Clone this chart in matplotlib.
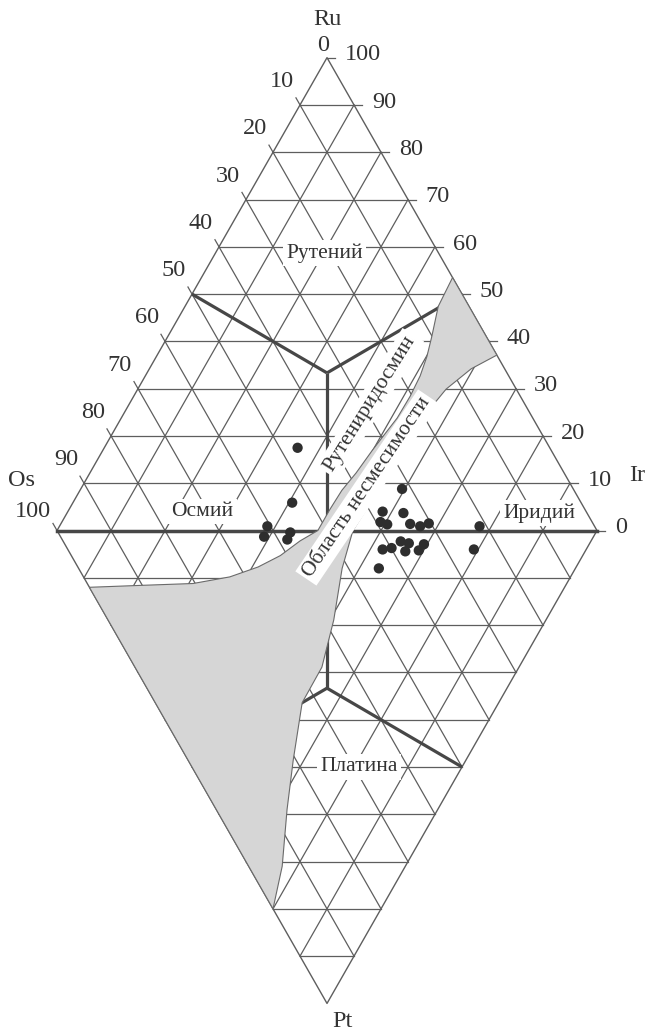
import numpy as np
import matplotlib.pyplot as plt
from matplotlib.patches import Polygon

plt.rcParams['font.family'] = ['Liberation Serif', 'DejaVu Serif']

# analysed grains, at.% : Ir, Ru (upper triangle) or Pt (lower triangle); Os is the rest
grain_ir = [35.8, 40.6, 38.5, 37.7, 43.0, 41.7,
            59.5, 58.3, 62.3, 59.0, 60.5, 64.7, 66.8, 68.1, 77.8,
            58.3, 60.1, 62.5, 63.8, 62.3, 64.9, 66.5, 55.6, 75.2]
grain_ru = [17.5, 5.9, 0.9, 0.0, 0.0, 0.0,
            8.8, 4.0, 3.7, 1.8, 1.3, 1.4, 0.9, 1.5, 0.9,
            0.0, 0.0, 0.0, 0.0, 0.0, 0.0, 0.0, 0.0, 0.0]
grain_pt = [0.0, 0.0, 0.0, 1.3, 0.4, 1.9,
            0.0, 0.0, 0.0, 0.0, 0.0, 0.0, 0.0, 0.0, 0.0,
            4.0, 3.7, 2.3, 2.7, 4.4, 4.2, 2.9, 8.0, 4.0]

# outline of the miscibility gap, walked round once
gap_ir = [46.5, 62.9, 59.6, 57.1, 56.2, 55.7, 55.3, 55.1, 54.8,
          48.8, 41.8, 34.6, 27.2, 19.5, 13.1, 6.2, 0.0,
          0.0, 9.6, 19.6, 27.1, 33.4, 38.7, 43.9, 48.3,
          48.3, 48.5, 49.3, 49.9, 50.5, 51.1, 51.2, 50.9, 50.1, 48.9, 46.9]
gap_ru = [53.5, 37.1, 34.2, 29.9, 25.8, 18.9, 12.0, 5.7, 0.0,
          0.0, 0.0, 0.0, 0.0, 0.0, 0.0, 0.0, 0.0,
          0.0, 0.0, 0.0, 0.0, 0.0, 0.0, 0.0, 0.0,
          4.5, 8.5, 12.2, 16.9, 20.4, 23.8, 28.4, 32.7, 36.8, 41.0, 47.4]
gap_pt = [0.0, 0.0, 0.0, 0.0, 0.0, 0.0, 0.0, 0.0, 0.0,
          8.0, 18.9, 28.9, 36.4, 48.5, 59.0, 71.0, 80.0,
          12.0, 11.6, 11.2, 9.8, 7.7, 5.3, 2.2, 0.0,
          0.0, 0.0, 0.0, 0.0, 0.0, 0.0, 0.0, 0.0, 0.0, 0.0, 0.0]

ticks = list(range(0, 101, 10))

SQ = np.sqrt(3) / 2
LINE = '#5e5e5e'
BOLD = '#474747'
INK = '#333333'


def to_xy(ir, ru, pt):
    ir, ru, pt = np.asarray(ir, float), np.asarray(ru, float), np.asarray(pt, float)
    return ir + (ru + pt) / 2, (ru - pt) * SQ


fig = plt.figure(figsize=(6.47, 10.34), dpi=100)
ax = fig.add_axes([0, 0, 1, 1])
ax.set_xlim(-10.56, 109.26)
ax.set_ylim(-92.2, 97.16)
ax.axis('off')

# 10 % grid in both triangles (s=+1 Ru on top, s=-1 Pt below)
for s in (1, -1):
    for k in range(10, 100, 10):
        for a, b in [((0, k), (100 - k, k)),          # const Ru / Pt
                     ((k, 0), (k, 100 - k)),          # const Ir
                     ((100 - k, 0), (0, 100 - k))]:   # const Os
            x0, y0 = a[0] + a[1] / 2, s * a[1] * SQ
            x1, y1 = b[0] + b[1] / 2, s * b[1] * SQ
            ax.plot([x0, x1], [y0, y1], color=LINE, lw=0.9, zorder=1)
    ax.plot([0, 50, 100], [0, s * 100 * SQ, 0], color=LINE, lw=1.0, zorder=1)

# field boundaries (lines from the triangle centroids to the edge midpoints)
c = 100 / 3
for s in (1, -1):
    cx, cy = to_xy(c, c if s > 0 else 0, c if s < 0 else 0)
    for ex, ey in [(25, s * 50 * SQ), (75, s * 50 * SQ), (50, 0)]:
        ax.plot([cx, ex], [cy, ey], color=BOLD, lw=2.3, zorder=2,
                solid_capstyle='butt')
ax.plot([0, 100], [0, 0], color=BOLD, lw=2.5, zorder=2)

# miscibility gap
gx, gy = to_xy(gap_ir, gap_ru, gap_pt)
ax.add_patch(Polygon(np.column_stack([gx, gy]), closed=True, facecolor='#d6d6d6',
                     edgecolor='#6a6a6a', lw=0.8, zorder=3))

# tick marks and numbers
L = 1.5
FS = 17.5
for v in ticks:
    # Os along the left edge
    if v > 0:
        px, py = (100 - v) / 2, (100 - v) * SQ
        ax.plot([px, px - 0.5 * L], [py, py + SQ * L], color=LINE, lw=0.9, zorder=1)
        ax.text(px - 1.1, py + (4.3 if v < 100 else 3.5), str(v), ha='right',
                va='center', fontsize=FS, color=INK)
    else:
        ax.text(49.2, 88.8, '0', ha='center', va='center', fontsize=FS, color=INK)
    # Ru along the right edge
    qx, qy = 100 - v / 2, v * SQ
    ax.plot([qx, qx + L], [qy, qy], color=LINE, lw=0.9, zorder=1)
    ax.text(qx + 3.3, qy + 0.5, str(v), ha='left', va='center',
            fontsize=FS, color=INK)

ax.text(50.0, 93.5, 'Ru', ha='center', va='center', fontsize=FS, color=INK)
ax.text(-6.5, 9.2, 'Os', ha='center', va='center', fontsize=FS, color=INK)
ax.text(107.4, 10.1, 'Ir', ha='center', va='center', fontsize=FS, color=INK)
ax.text(52.9, -90.0, 'Pt', ha='center', va='center', fontsize=FS, color=INK)

# field names
box = dict(boxstyle='square,pad=0.15', facecolor='white', edgecolor='none')
for name, ir, ru, pt, rot in [('Рутений', 20.2, 58.7, 0, 0),
                              ('Осмий', 24.9, 4.0, 0, 0),
                              ('Иридий', 87.4, 3.7, 0, 0),
                              ('Платина', 31.0, 0, 50.0, 0),
                              ('Рутениридосмин', 44.6, 26.8, 0, 58),
                              ('Область несмесимости', 52.9, 9.1, 0, 56)]:
    tx, ty = to_xy(ir, ru, pt)
    ax.text(tx, ty, name, ha='center', va='center', rotation=rot,
            rotation_mode='anchor', fontsize=15.5, color=INK, bbox=box, zorder=4)

gx, gy = to_xy(grain_ir, grain_ru, grain_pt)
ax.scatter(gx, gy, s=55, color='#2e2e2e', edgecolors='none', zorder=5)

fig.savefig('out.png', dpi=100, facecolor='white')
